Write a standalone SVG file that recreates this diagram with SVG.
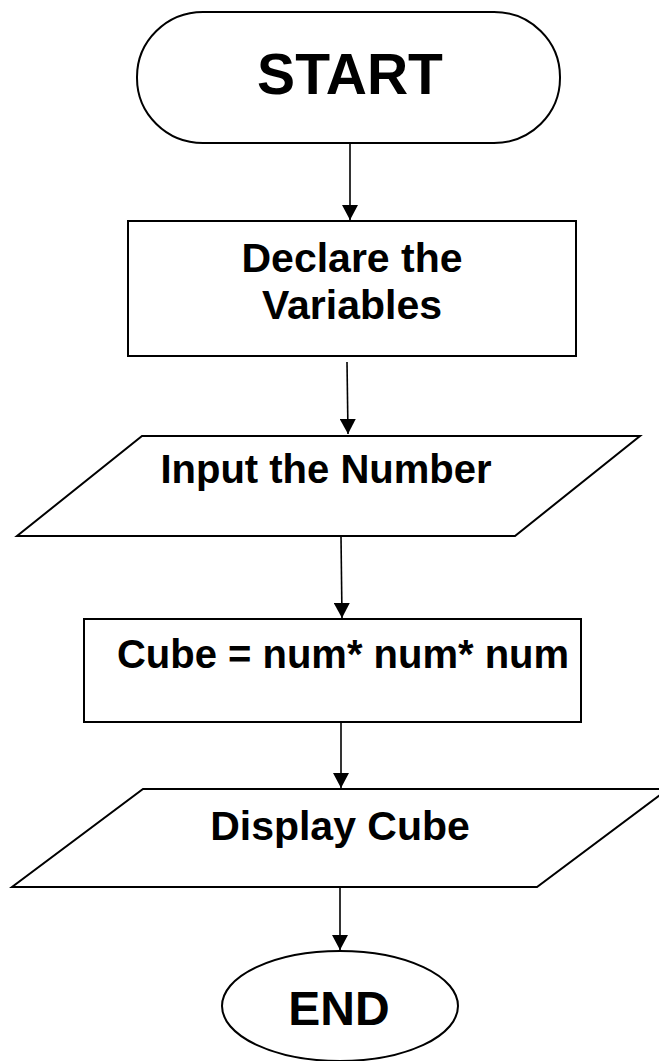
<svg xmlns="http://www.w3.org/2000/svg" width="659" height="1061" viewBox="0 0 659 1061">
<style>
.s{fill:#fff;stroke:#000;stroke-width:2}
.t{font-family:"Liberation Sans",Arial,sans-serif;font-weight:bold;fill:#000;text-anchor:middle}
.c{stroke:#000;stroke-width:1.6;fill:none;marker-end:url(#ah)}
</style>
<defs>
<marker id="ah" markerWidth="18" markerHeight="16" refX="15" refY="8" orient="auto" markerUnits="userSpaceOnUse">
<path d="M0,0 L15,8 L0,16 Z" fill="#000"/>
</marker>
</defs>
<rect width="659" height="1061" fill="#fff"/>
<g id="connectors">
<line class="c" x1="350" y1="137" x2="350" y2="220"/>
<line class="c" x1="347" y1="362" x2="348" y2="434"/>
<line class="c" x1="341" y1="537" x2="342" y2="618"/>
<line class="c" x1="341" y1="723" x2="341" y2="788"/>
<line class="c" x1="340" y1="888" x2="340" y2="950"/>
</g>
<g id="start">
<rect class="s" x="137" y="12" width="423" height="131" rx="66" ry="65"/>
<text class="t" x="350" y="94" font-size="57">START</text>
</g>
<g id="declare">
<rect class="s" x="128" y="221" width="448" height="135"/>
<text class="t" x="352" y="272" font-size="41">Declare the</text>
<text class="t" x="352" y="319" font-size="41">Variables</text>
</g>
<g id="input">
<polygon class="s" points="142,436 640,436 515,536 17,536"/>
<text class="t" x="326" y="483" font-size="40">Input the Number</text>
</g>
<g id="process">
<rect class="s" x="84" y="619" width="497" height="103"/>
<text class="t" x="343" y="668" font-size="40">Cube = num* num* num</text>
</g>
<g id="display">
<polygon class="s" points="143,789 668,789 537,887 12,887"/>
<text class="t" x="340" y="840" font-size="41">Display Cube</text>
</g>
<g id="end">
<ellipse class="s" cx="340" cy="1006" rx="118" ry="55"/>
<text class="t" x="339" y="1025" font-size="48">END</text>
</g>
</svg>
